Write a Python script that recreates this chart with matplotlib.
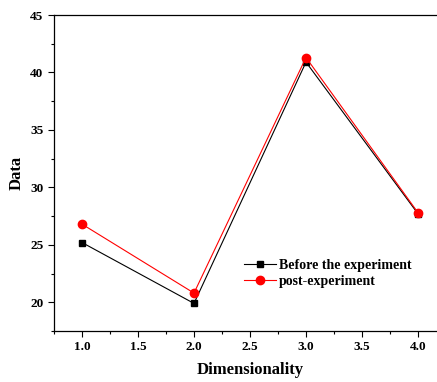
import matplotlib
matplotlib.use("Agg")
import matplotlib.pyplot as plt
from matplotlib.ticker import MultipleLocator

x = [1.0, 2.0, 3.0, 4.0]
before = [25.2, 19.9, 40.9, 27.7]
post = [26.8, 20.8, 41.3, 27.8]
xticks = [1.0, 1.5, 2.0, 2.5, 3.0, 3.5, 4.0]
yticks = [20, 25, 30, 35, 40, 45]

plt.rcParams['font.family'] = ['Liberation Serif', 'DejaVu Serif']
plt.rcParams['font.weight'] = 'bold'

fig = plt.figure(figsize=(4.37, 3.82), dpi=100)
ax = fig.add_axes([54/437, 1-331/382, 392/437, 316/382])

ax.plot(x, before, color='black', lw=0.8, marker='s', ms=5, label='Before the experiment')
ax.plot(x, post, color='red', lw=0.8, marker='o', ms=6, label='post-experiment')

ax.set_xlim(0.75, 4.25)
ax.set_ylim(17.5, 45)
ax.set_xticks(xticks)
ax.set_xticklabels([f"{v:.1f}" for v in xticks])
ax.set_yticks(yticks)
ax.xaxis.set_minor_locator(MultipleLocator(0.25))
ax.yaxis.set_minor_locator(MultipleLocator(2.5))
ax.tick_params(which='major', direction='out', length=4, width=0.8, labelsize=9.5)
ax.tick_params(which='minor', direction='out', length=2.5, width=0.8)
for lab in ax.get_xticklabels() + ax.get_yticklabels():
    lab.set_fontweight('bold')
ax.spines['right'].set_visible(False)
for s in ['left', 'bottom', 'top']:
    ax.spines[s].set_linewidth(0.9)

ax.set_xlabel('Dimensionality', fontsize=12, fontweight='bold', labelpad=6)
ax.set_ylabel('Data', fontsize=12, fontweight='bold', labelpad=4)

leg = ax.legend(loc='upper left', bbox_to_anchor=(0.47, 0.245), frameon=False,
                fontsize=10, handlelength=2.3, handletextpad=0.2, labelspacing=0.2,
                borderaxespad=0)
for t in leg.get_texts():
    t.set_fontweight('bold')

fig.savefig('out.png', dpi=100)
